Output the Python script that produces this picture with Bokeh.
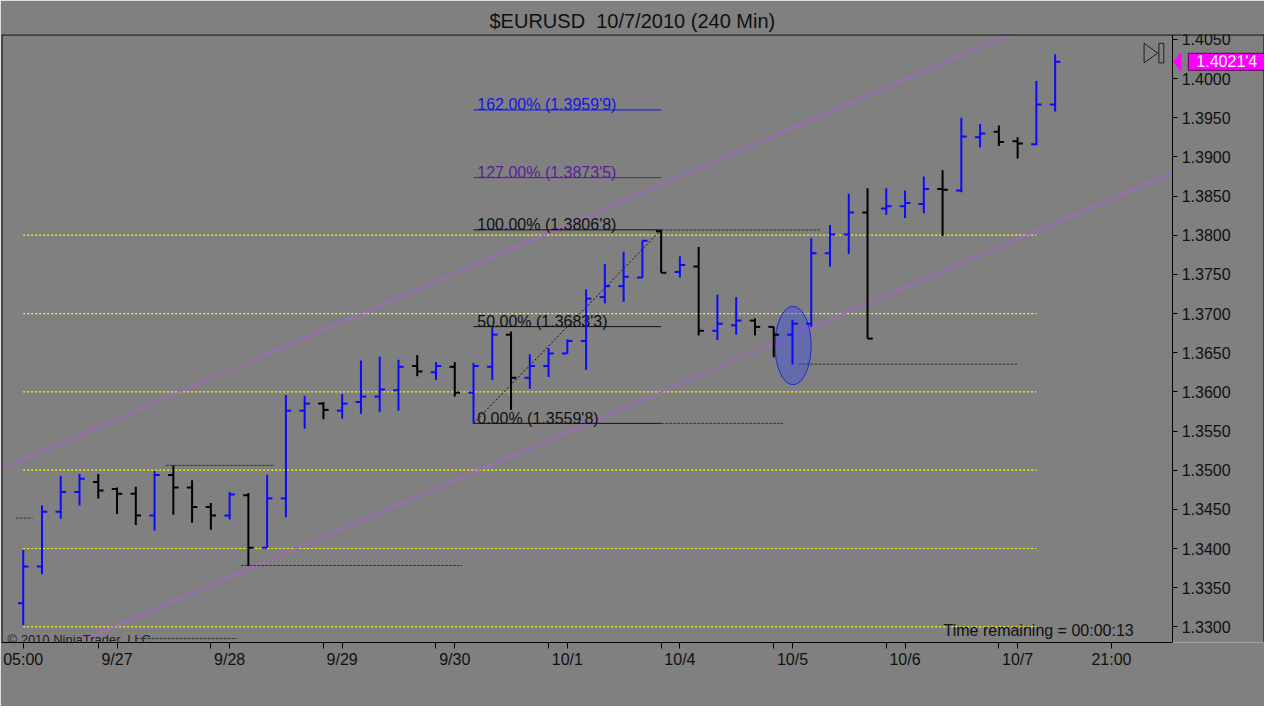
from bokeh.plotting import figure
from bokeh.models import FixedTicker, Label, Range1d, PrintfTickFormatter, Span
from bokeh.core.properties import value
from bokeh.embed import file_html
from bokeh.resources import INLINE

# ---------------- data ----------------
bar_index = list(range(56))
opens = [1.3330, 1.3377, 1.3447, 1.3472, 1.3485, 1.3476, 1.3470, 1.3442, 1.3494, 1.3478,
         1.3453, 1.3442, 1.3468, 1.3401, 1.3464, 1.3576, 1.3585, 1.3576, 1.3587, 1.3594,
         1.3602, 1.3633, 1.3625, 1.3632, 1.3599, 1.3632, 1.3673, 1.3618, 1.3633, 1.3649,
         1.3665, 1.3721, 1.3735, 1.3746, 1.3805, 1.3753, 1.3760, 1.3678, 1.3685, 1.3691,
         1.3683, 1.3673, 1.3687, 1.3777, 1.3801, 1.3829, 1.3834, 1.3837, 1.3840, 1.3859,
         1.3857, 1.3925, 1.3932, 1.3920, 1.3916, 1.3967]
highs = [1.3398, 1.3455, 1.3493, 1.3495, 1.3495, 1.3478, 1.3479, 1.3499, 1.3506, 1.3487,
         1.3458, 1.3472, 1.3471, 1.3494, 1.3596, 1.3595, 1.3587, 1.3597, 1.3640, 1.3645,
         1.3641, 1.3647, 1.3638, 1.3638, 1.3637, 1.3683, 1.3677, 1.3648, 1.3656, 1.3667,
         1.3731, 1.3763, 1.3779, 1.3793, 1.38068, 1.3773, 1.3785, 1.3724, 1.3721, 1.3694,
         1.3683, 1.3692, 1.3796, 1.3813, 1.3853, 1.3860, 1.3860, 1.3857, 1.3875, 1.3883,
         1.3950, 1.3942, 1.3940, 1.3925, 1.3997, 1.4031]
lows = [1.3302, 1.3367, 1.3438, 1.3455, 1.3464, 1.3444, 1.3430, 1.3423, 1.3443, 1.3433,
        1.3424, 1.3437, 1.3378, 1.3401, 1.3440, 1.3553, 1.3565, 1.3566, 1.3572, 1.3574,
        1.3576, 1.3620, 1.3615, 1.3594, 1.35598, 1.3615, 1.3577, 1.3604, 1.3619, 1.3649,
        1.3628, 1.3713, 1.3715, 1.3746, 1.3752, 1.3746, 1.3672, 1.3666, 1.3673, 1.3672,
        1.3644, 1.3635, 1.3683, 1.3760, 1.3776, 1.3668, 1.3826, 1.3822, 1.3828, 1.3799,
        1.3855, 1.3912, 1.3914, 1.3898, 1.3915, 1.3958]
closes = [1.3377, 1.3447, 1.3472, 1.3489, 1.3474, 1.3470, 1.3442, 1.3494, 1.3478, 1.3453,
          1.3442, 1.3469, 1.3401, 1.3464, 1.3576, 1.3585, 1.3577, 1.3585, 1.3594, 1.3603,
          1.3632, 1.3626, 1.3633, 1.3599, 1.3633, 1.3673, 1.3618, 1.3633, 1.3649, 1.3665,
          1.3719, 1.3735, 1.3747, 1.3793, 1.3752, 1.3762, 1.3678, 1.3687, 1.3691, 1.3683,
          1.3673, 1.3687, 1.3777, 1.3801, 1.3829, 1.3668, 1.3837, 1.3841, 1.3859, 1.3858,
          1.3926, 1.3930, 1.3919, 1.3917, 1.3967, 1.40214]

x_label_pos = [0, 5, 11, 17, 23, 29, 35, 41, 47, 53, 58]
x_label_text = ["05:00", "9/27", "9/28", "9/29", "9/30", "10/1", "10/4", "10/5", "10/6", "10/7", "21:00"]
x_extra_tick_pos = [4, 10, 16, 22, 28, 34, 40, 46, 52]

y_tick_values = [1.3300, 1.3350, 1.3400, 1.3450, 1.3500, 1.3550, 1.3600, 1.3650, 1.3700,
                 1.3750, 1.3800, 1.3850, 1.3900, 1.3950, 1.4000, 1.4050]

level_lines = [1.33, 1.34, 1.35, 1.36, 1.37, 1.38]
level_start, level_end = 0.0, 54.0

fib_prices = [1.35598, 1.36833, 1.38068, 1.38735, 1.39599]
fib_texts = ["0.00% (1.3559'8)", "50.00% (1.3683'3)", "100.00% (1.3806'8)",
             "127.00% (1.3873'5)", "162.00% (1.3959'9)"]
fib_colors = ["#101010", "#101010", "#101010", "#5a1e9a", "#1414e6"]
fib_start, fib_end = 24.0, 34.0
fib_anchor_low, fib_anchor_high = 1.35598, 1.38068

swing_prices = [1.34388, 1.35062, 1.33783, 1.32850, 1.35598, 1.38068, 1.36354]
swing_from = [-0.4, 7.6, 11.6, 6.0, 34.0, 34.0, 41.3]
swing_to = [0.5, 13.4, 23.4, 11.4, 40.5, 42.5, 53.0]

channel_upper_x = [-2.0, 53.0]
channel_upper_y = [1.3493, 1.4061]
channel_lower_x = [2.0, 61.26]
channel_lower_y = [1.3271, 1.3880]

ellipse_x, ellipse_y = 41.03, 1.36591
ellipse_w, ellipse_h = 1.93, 0.0100

last_price = 1.40214
last_price_text = "1.4021'4"

# chart geometry (bar-index / price units)
X_START, X_END = -1.158, 66.158
Y_START, Y_END = 1.328, 1.405625
PRICE_AXIS_AT = 61.263

# ---------------- figure ----------------
FONT = "Liberation Sans"
GRAY = "#808080"
p = figure(width=1264, height=706,
           x_range=Range1d(X_START, X_END), y_range=Range1d(Y_START, Y_END),
           y_axis_location="right", output_backend="svg", toolbar_location=None,
           min_border_left=1, min_border_right=0, min_border_top=34, min_border_bottom=64,
           background_fill_color=GRAY, border_fill_color=GRAY,
           outline_line_color=None)

p.title.text = "$EURUSD\u00a0 10/7/2010 (240 Min)"
p.title.text_font = FONT
p.title.text_font_size = "20px"
p.title.text_font_style = "normal"
p.title.text_color = "#101010"
p.title.align = "left"
p.title.offset = 488
p.title.standoff = 6

p.xgrid.visible = False
p.ygrid.visible = False

# frame borders: top line across the full width, left and right edges
p.add_layout(Span(location=Y_END, dimension="width", line_color="black", line_width=2))
p.add_layout(Span(location=X_START, dimension="height", line_color="black", line_width=2))
p.add_layout(Span(location=X_END, dimension="height", line_color="black", line_width=2))

# y axis (drawn at the price-scale edge)
ya = p.yaxis[0]
ya.fixed_location = PRICE_AXIS_AT
ya.ticker = FixedTicker(ticks=y_tick_values, minor_ticks=[])
ya.formatter = PrintfTickFormatter(format="%.4f")
ya.major_tick_out = 5
ya.major_tick_in = 0
ya.minor_tick_out = 0
ya.minor_tick_in = 0
ya.major_label_standoff = 4
ya.major_label_text_font = FONT
ya.major_label_text_font_size = "16px"
ya.major_label_text_color = "#101010"
ya.axis_line_color = "black"
ya.major_tick_line_color = "black"

# x axis (bottom), line ending at the price scale
xa = p.xaxis[0]
xa.bounds = (X_START, PRICE_AXIS_AT)
xa.ticker = FixedTicker(ticks=sorted(x_label_pos + x_extra_tick_pos), minor_ticks=[])
overrides = {k: t for k, t in zip(x_label_pos, x_label_text)}
overrides.update({k: "" for k in x_extra_tick_pos})
xa.major_label_overrides = overrides
xa.major_tick_out = 6
xa.major_tick_in = 0
xa.minor_tick_out = 0
xa.minor_tick_in = 0
xa.major_label_standoff = 2
xa.major_label_text_font = FONT
xa.major_label_text_font_size = "16px"
xa.major_label_text_color = "#101010"
xa.axis_line_color = "black"
xa.major_tick_line_color = "black"

# yellow dotted level lines
p.segment(x0=[level_start] * len(level_lines), y0=level_lines,
          x1=[level_end] * len(level_lines), y1=level_lines,
          line_color="#ffff00", line_width=1.2, line_dash="2 2")

# regression channel lines
p.line(channel_upper_x, channel_upper_y, line_color="#b060d8", line_width=1.3)
p.line(channel_lower_x, channel_lower_y, line_color="#b060d8", line_width=1.3)

# swing dashed lines
p.segment(x0=swing_from, y0=swing_prices, x1=swing_to, y1=swing_prices,
          line_color="#383838", line_width=1, line_dash="3 1")

# fibonacci
p.segment(x0=[fib_start] * len(fib_prices), y0=fib_prices,
          x1=[fib_end] * len(fib_prices), y1=fib_prices,
          line_color=fib_colors, line_width=1)
p.line([fib_start, fib_end], [fib_anchor_low, fib_anchor_high],
       line_color="#101010", line_width=1, line_dash="2 2")
p.text(x=[fib_start + 0.2] * len(fib_prices), y=fib_prices, text=fib_texts,
       text_color=fib_colors, text_font=value(FONT), text_font_size="16px",
       text_baseline="alphabetic", y_offset=-5)

# ellipse
p.ellipse(x=[ellipse_x], y=[ellipse_y], width=ellipse_w, height=ellipse_h,
          fill_color="#3a4ae8", fill_alpha=0.4, line_color="#1a2ad8", line_width=1)

# OHLC bars
colors = ["#0a0aff" if c > o else "#000000" for o, c in zip(opens, closes)]
tick = 0.28
p.segment(x0=bar_index, y0=lows, x1=bar_index, y1=highs, line_color=colors, line_width=2)
p.segment(x0=[i - tick for i in bar_index], y0=opens, x1=bar_index, y1=opens,
          line_color=colors, line_width=2)
p.segment(x0=bar_index, y0=closes, x1=[i + tick for i in bar_index], y1=closes,
          line_color=colors, line_width=2)

# "go to end" icon
icon_tri_x = [59.74, 60.47, 59.74]
icon_tri_y = [1.4045, 1.40325, 1.4020]
p.patch(icon_tri_x, icon_tri_y, fill_alpha=0, line_color="#202020", line_width=1)
p.quad(left=[60.53], right=[60.79], top=[1.4045], bottom=[1.4020],
       fill_alpha=0, line_color="#202020", line_width=1)

# texts
p.add_layout(Label(x=49.05, y=1.3295, text="Time remaining = 00:00:13",
                   text_font=FONT, text_font_size="16px", text_color="#101010",
                   text_baseline="alphabetic"))
p.add_layout(Label(x=-0.84, y=1.32838, text="\u00a9 2010 NinjaTrader, LLC",
                   text_font=FONT, text_font_size="13px", text_color="#202020",
                   text_baseline="alphabetic"))

# last price marker over the price scale
half_h = 0.00115
p.patch([61.32, 61.70, 61.70], [last_price, last_price + half_h, last_price - half_h],
        fill_color="#ff00ff", line_color="#ff00ff", line_width=1)
p.add_layout(Label(x=62.1, y=last_price, text=last_price_text, text_font=FONT,
                   text_font_size="16px", text_color="white", text_baseline="middle",
                   text_align="left", background_fill_color="#ff00ff",
                   border_line_color="#600060", border_line_width=1,
                   padding=dict(left=8, right=9, top=0, bottom=0)))

open("out.html", "w").write(file_html(p, INLINE))
